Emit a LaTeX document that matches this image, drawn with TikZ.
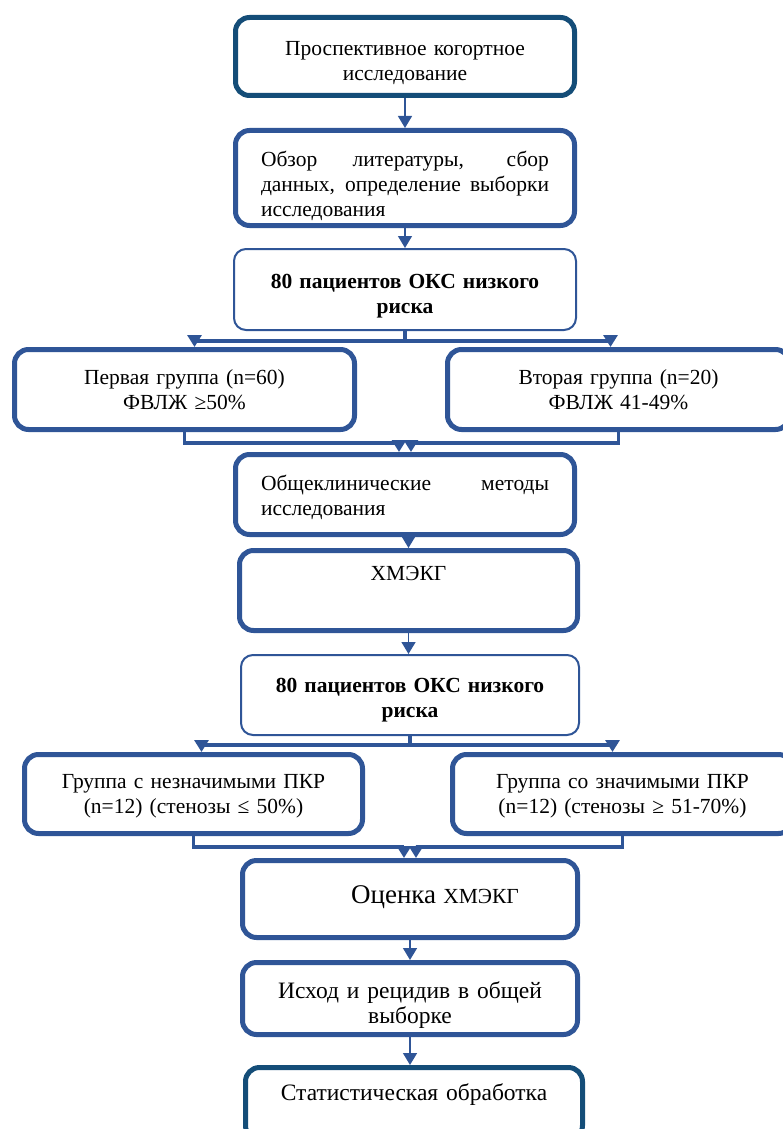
\documentclass[tikz,border=0pt]{standalone}
\usepackage{fontspec}
\setmainfont{Liberation Serif}
\usetikzlibrary{arrows.meta}

\definecolor{flowBlue}{RGB}{47,85,151}
\definecolor{flowTeal}{RGB}{20,77,120}
\newcommand{\boxFont}{\fontsize{21.5}{25}\selectfont}
\newcommand{\largeBoxFont}{\fontsize{23.5}{25}\selectfont}
\newcommand{\bigWord}{\fontsize{27}{30}\selectfont}

\begin{document}
\begin{tikzpicture}[
        x=1pt, y=-1pt,
        stepBox/.style={
            draw=flowBlue,
            line width=5pt,
            fill=white,
            rounded corners=14pt,
            minimum width=338pt,
            minimum height=80pt,
            inner ysep=2pt,
            text width=300pt,
            align=center,
            font=\boxFont
        },
        endBox/.style={
            stepBox,
            draw=flowTeal
        },
        countBox/.style={
            stepBox,
            line width=2pt,
            rounded corners=12pt,
            font=\boxFont\bfseries
        },
        pointer/.style={
            -{Triangle[width=14pt,length=12pt]},
            line width=1.5pt,
            draw=flowBlue
        },
        branch/.style={
            -{Triangle[width=14pt,length=12pt]},
            line width=3.5pt,
            draw=flowBlue
        }
    ]

        \useasboundingbox (0,0) rectangle (782,1129);

        % Study design and preparation
        \node[endBox, minimum width=339pt, minimum height=78pt, text height=27pt] (study) at (405,56.5)
            {Проспективное когортное\\исследование};
        \node[stepBox, minimum width=339pt, minimum height=95pt, text height=31pt,
              text width=288pt, align=justify] (review) at (405,178)
            {Обзор литературы, сбор\linebreak данных, определение выборки\linebreak исследования};
        \node[countBox, minimum width=342pt, minimum height=81pt, text height=27pt] (cohortA) at (405,289.5)
            {80 пациентов ОКС низкого\\риска};

        % Groups by ejection fraction
        \node[stepBox, minimum width=340pt] (groupOne) at (184.5,389.5)
            {Первая группа (n=60)\\ФВЛЖ ≥50\%};
        \node[stepBox, minimum width=342pt] (groupTwo) at (618.5,389.5)
            {Вторая группа (n=20)\\ФВЛЖ 41-49\%};

        % Examination
        \node[stepBox, minimum width=339pt, text height=21pt,
              text width=288pt, align=justify] (clinic) at (405,494.5)
            {Общеклинические методы\linebreak исследования};
        \node[stepBox] (holter) at (408.5,590.5)
            {ХМЭКГ\\[10pt]~};
        \node[countBox, minimum width=338pt, text height=25pt] (cohortB) at (410,695)
            {80 пациентов ОКС низкого\\риска};

        % Groups by coronary lesion
        \node[stepBox, minimum height=79pt, text height=19pt] (minorGroup) at (193.5,794)
            {Группа с незначимыми ПКР\\(n=12) (стенозы ≤ 50\%)};
        \node[stepBox, minimum width=340pt, minimum height=79pt, text height=19pt] (majorGroup) at (622.5,794)
            {Группа со значимыми ПКР\\(n=12) (стенозы ≥ 51-70\%)};

        % Evaluation and analysis
        \node[stepBox, minimum width=335pt, minimum height=77pt, text height=14pt] (assess) at (410,899)
            {\hspace*{50pt}{\bigWord Оценка} ХМЭКГ};
        \node[stepBox, minimum width=335pt, minimum height=72pt, text height=30pt,
              font=\largeBoxFont] (outcome) at (410,998.5)
            {Исход и рецидив в общей\\выборке};
        \node[endBox, minimum width=337pt, minimum height=72pt, text height=18pt,
              font=\largeBoxFont] (stats) at (414,1103.5)
            {Статистическая обработка\\~};

        % Main column arrows
        \draw[pointer] (study) -- (review);
        \draw[pointer] (review) -- (cohortA);
        \draw[pointer] (clinic.south -| holter.north) -- (holter.north);
        \draw[pointer] (holter.south) -- (holter.south |- cohortB.north);
        \draw[pointer] (assess) -- (outcome);
        \draw[pointer] (outcome.south) -- (outcome.south |- stats.north);

        % Split into the first pair of groups
        \draw[branch] (cohortA.south) -- ++(0,10) -| ([xshift=10pt]groupOne.north);
        \draw[branch] (cohortA.south) -- ++(0,10) -| ([xshift=-8pt]groupTwo.north);

        % Join back to the examination
        \draw[branch] (groupOne.south) -- ++(0,11) -| ([xshift=-6pt]clinic.north);
        \draw[branch] (groupTwo.south) -- ++(0,11) -| ([xshift=6pt]clinic.north);

        % Split into the second pair of groups
        \draw[branch] (cohortB.south) -- ++(0,9) -| ([xshift=8pt]minorGroup.north);
        \draw[branch] (cohortB.south) -- ++(0,9) -| ([xshift=-10pt]majorGroup.north);

        % Join back to the evaluation
        \draw[branch] (minorGroup.south) -- ++(0,11) -| ([xshift=-6pt]assess.north);
        \draw[branch] (majorGroup.south) -- ++(0,11) -| ([xshift=6pt]assess.north);

    \end{tikzpicture}
\end{document}
